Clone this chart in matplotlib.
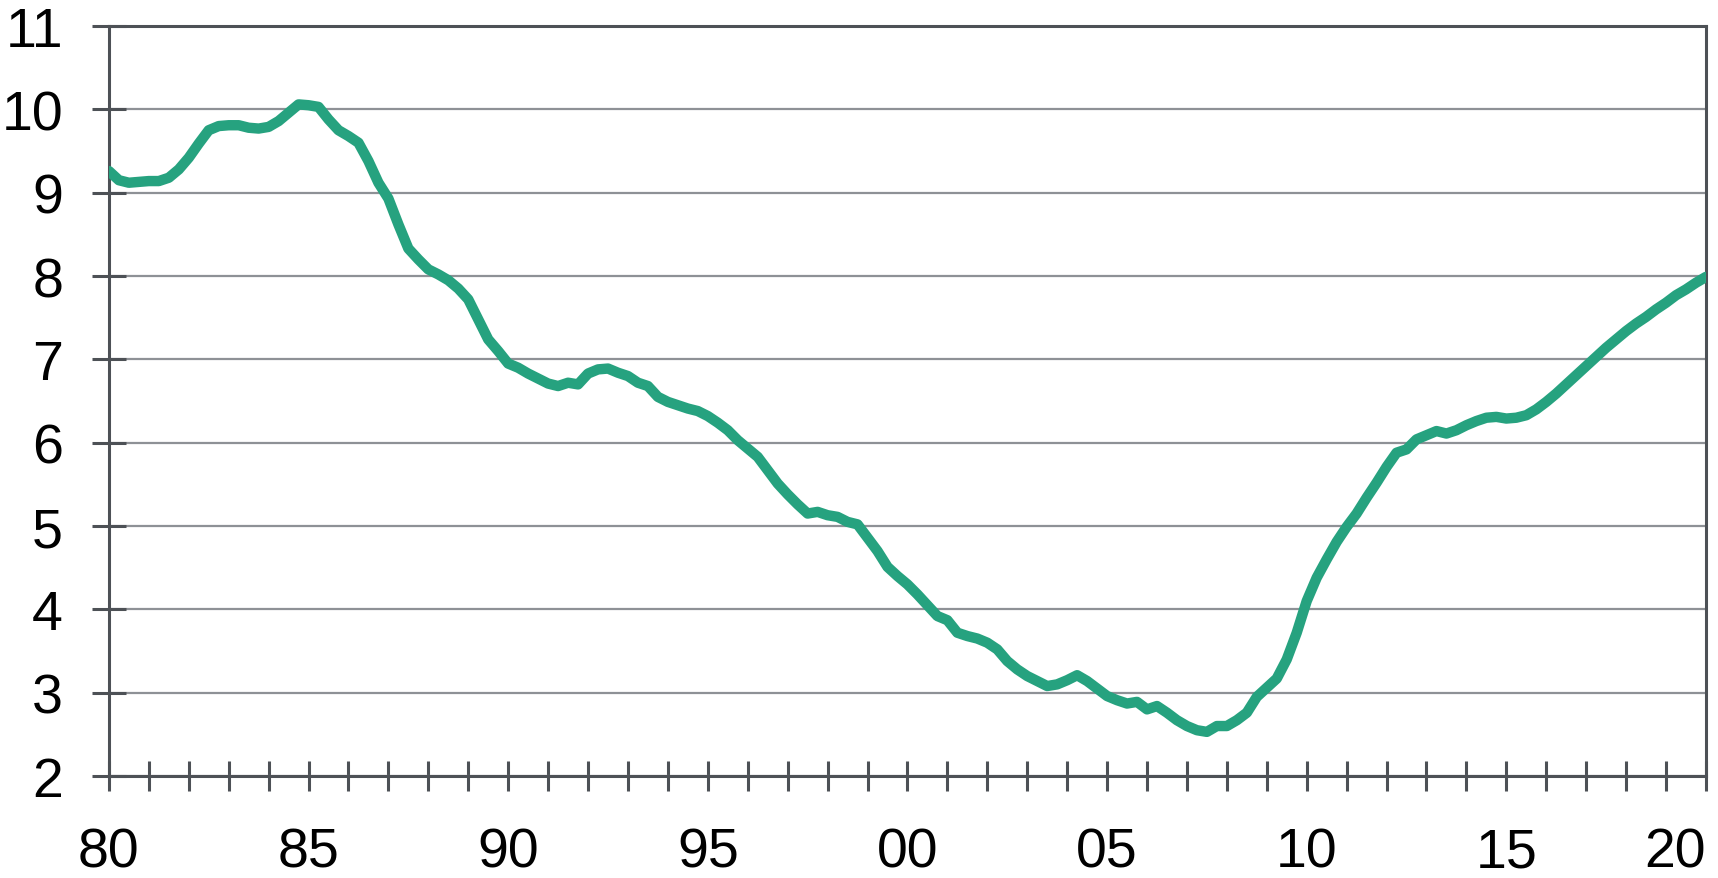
import numpy as np
import matplotlib
matplotlib.use("Agg")
import matplotlib.pyplot as plt

# quarterly values, 1980Q1 .. 2020Q1
values = [
    9.26, 9.15, 9.12, 9.13,   # 1980
    9.14, 9.14, 9.18, 9.28,   # 1981
    9.42, 9.59, 9.75, 9.80,   # 1982
    9.81, 9.81, 9.78, 9.77,   # 1983
    9.79, 9.86, 9.96, 10.06,  # 1984
    10.05, 10.03, 9.88, 9.75, # 1985
    9.68, 9.60, 9.38, 9.12,   # 1986
    8.93, 8.62, 8.33, 8.20,   # 1987
    8.08, 8.02, 7.95, 7.85,   # 1988
    7.72, 7.48, 7.24, 7.10,   # 1989
    6.95, 6.90, 6.83, 6.77,   # 1990
    6.71, 6.68, 6.72, 6.70,   # 1991
    6.83, 6.88, 6.89, 6.84,   # 1992
    6.80, 6.72, 6.68, 6.55,   # 1993
    6.49, 6.45, 6.41, 6.38,   # 1994
    6.32, 6.24, 6.15, 6.03,   # 1995
    5.93, 5.83, 5.67, 5.51,   # 1996
    5.38, 5.26, 5.15, 5.17,   # 1997
    5.13, 5.11, 5.05, 5.02,   # 1998
    4.86, 4.70, 4.51, 4.40,   # 1999
    4.30, 4.18, 4.05, 3.92,   # 2000
    3.87, 3.72, 3.68, 3.65,   # 2001
    3.60, 3.52, 3.38, 3.28,   # 2002
    3.20, 3.14, 3.08, 3.10,   # 2003
    3.15, 3.21, 3.14, 3.05,   # 2004
    2.96, 2.91, 2.87, 2.89,   # 2005
    2.80, 2.84, 2.76, 2.67,   # 2006
    2.60, 2.55, 2.53, 2.60,   # 2007
    2.60, 2.67, 2.76, 2.95,   # 2008
    3.06, 3.17, 3.40, 3.72,   # 2009
    4.10, 4.38, 4.60, 4.81,   # 2010
    4.99, 5.15, 5.34, 5.52,   # 2011
    5.71, 5.88, 5.92, 6.04,   # 2012
    6.09, 6.14, 6.11, 6.15,   # 2013
    6.21, 6.26, 6.30, 6.31,   # 2014
    6.29, 6.30, 6.33, 6.40,   # 2015
    6.49, 6.59, 6.70, 6.81,   # 2016
    6.92, 7.03, 7.14, 7.24,   # 2017
    7.34, 7.43, 7.51, 7.60,   # 2018
    7.68, 7.77, 7.84, 7.92,   # 2019
    7.99,                     # 2020
]
start_year = 1980
years = start_year + np.arange(len(values)) / 4

y_ticks = list(range(2, 12))
x_ticks = list(range(1980, 2021))

line_color = "#26a27f"
dark = "#4d5156"
grid_color = "#8e9196"

plt.rcParams["font.family"] = ["Liberation Sans", "DejaVu Sans"]

fig = plt.figure(figsize=(17.18, 8.79), dpi=100)
ax = fig.add_axes([0.0634, 0.116, 0.9296, 0.8532])

ax.plot(years, values, color=line_color, lw=7.5, solid_joinstyle="round",
        solid_capstyle="round", zorder=3)

ax.set_xlim(1980, 2020)
ax.set_ylim(2, 11)

ax.set_yticks(y_ticks)
ax.set_yticklabels([str(v) for v in y_ticks])
ax.set_xticks(x_ticks)
ax.set_xticklabels([str(y)[-2:] if y % 5 == 0 else "" for y in x_ticks])

ax.grid(axis="y", color=grid_color, lw=1.6, zorder=1)
ax.set_axisbelow(True)

for side in ["left", "right", "top", "bottom"]:
    ax.spines[side].set_color(dark)
    ax.spines[side].set_linewidth(2.2)

ax.tick_params(axis="y", direction="inout", length=24, width=2.2, color=dark,
               labelsize=40, pad=21, labelcolor="black")
ax.tick_params(axis="x", direction="inout", length=22, width=2.2, color=dark,
               labelsize=40, pad=25, labelcolor="black")

# last label kept inside the figure, right-aligned on the last tick
ax.get_xticklabels()[-1].set_horizontalalignment("right")

fig.savefig("out.png", dpi=100, facecolor="white")
